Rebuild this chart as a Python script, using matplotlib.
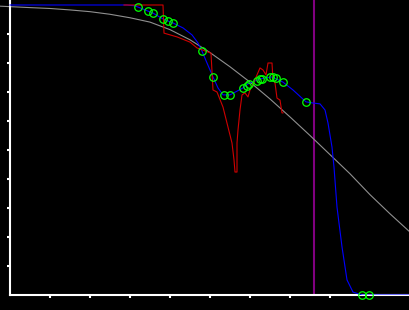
import matplotlib
matplotlib.use('Agg')
import matplotlib.pyplot as plt

# ── data ─────────────────────────────────────────────────────────────────────
ref_x = [-0.25, 0.5, 1.0, 1.5, 2.0, 2.5, 3.0, 3.5, 4.0, 4.5, 5.0, 5.5, 6.0,
         6.5, 7.0, 7.5, 8.0, 8.5, 9.0, 9.5, 10.0]
ref_y = [0.996, 0.991, 0.988, 0.983, 0.977, 0.968, 0.956, 0.941, 0.915, 0.880,
         0.836, 0.787, 0.734, 0.676, 0.614, 0.550, 0.484, 0.418, 0.346, 0.280,
         0.217]

fit_x = [0.0, 2.925, 3.125, 3.2, 3.45, 3.575, 3.825, 3.95, 4.075, 4.325, 4.55,
         4.7, 4.8, 4.925, 5.075, 5.2, 5.325, 5.5, 5.825, 5.95, 6.25, 6.55,
         6.825, 7.075, 7.4, 7.575, 7.75, 7.875, 7.95, 8.05, 8.1, 8.175, 8.3,
         8.425, 8.575, 8.8, 10.0]
fit_y = [1.0, 1.0, 0.997, 0.993, 0.979, 0.972, 0.952, 0.945, 0.938, 0.921,
         0.897, 0.869, 0.841, 0.800, 0.752, 0.714, 0.690, 0.690, 0.714, 0.728,
         0.745, 0.752, 0.734, 0.707, 0.666, 0.662, 0.659, 0.638, 0.593, 0.510,
         0.441, 0.303, 0.166, 0.052, 0.010, 0.0, 0.0]

raw_x = [2.85, 3.825, 3.85, 4.175, 4.5, 4.675, 5.025, 5.075, 5.175, 5.325,
         5.45, 5.55, 5.6, 5.625, 5.675, 5.675, 5.7, 5.75, 5.8, 5.875, 5.95,
         6.0, 6.1, 6.175, 6.25, 6.325, 6.4, 6.45, 6.55, 6.575, 6.625, 6.675,
         6.75, 6.8, 6.825]
raw_y = [1.0, 1.0, 0.903, 0.890, 0.872, 0.852, 0.834, 0.707, 0.700, 0.648,
         0.579, 0.524, 0.466, 0.424, 0.424, 0.524, 0.569, 0.638, 0.690, 0.697,
         0.683, 0.707, 0.734, 0.759, 0.783, 0.776, 0.759, 0.800, 0.800, 0.741,
         0.731, 0.679, 0.672, 0.628, 0.628]

obs_x = [3.2, 3.45, 3.575, 3.825, 3.95, 4.075, 4.8, 5.075, 5.35, 5.5, 5.825,
         5.925, 5.975, 6.175, 6.25, 6.3, 6.5, 6.575, 6.65, 6.825, 7.4, 8.8,
         8.975]
obs_y = [0.993, 0.979, 0.972, 0.952, 0.945, 0.938, 0.841, 0.752, 0.690, 0.690,
         0.714, 0.721, 0.728, 0.738, 0.745, 0.745, 0.752, 0.752, 0.748, 0.734,
         0.666, 0.0, 0.0]

cutoff = 7.6

x_ticks = [1, 2, 3, 4, 5, 6, 7, 8]
y_ticks = [0.1, 0.2, 0.3, 0.4, 0.5, 0.6, 0.7, 0.8, 0.9]

# ── figure ───────────────────────────────────────────────────────────────────
fig = plt.figure(figsize=(4.1, 3.1), dpi=100)
fig.patch.set_facecolor("black")
ax = fig.add_axes([0, 15 / 310, 1, 295 / 310])
ax.set_facecolor("black")

ax.axvline(cutoff, color="#800080", lw=1.5, zorder=1)
ax.plot(ref_x, ref_y, color="#909090", lw=0.8, zorder=2)
ax.plot(fit_x, fit_y, color="#0000ff", lw=0.8, zorder=3)
ax.plot(raw_x, raw_y, color="#d00000", lw=0.8, zorder=4)
ax.plot(obs_x, obs_y, ls="none", marker="o", ms=5.4, mfc="none",
        mec="#00ff00", mew=0.9, zorder=5, clip_on=False)

ax.set_xlim(-0.25, 10.0)
ax.set_ylim(0, 295 / 290)
ax.set_xticks(x_ticks)
ax.set_yticks(y_ticks)
ax.set_xticklabels([])
ax.set_yticklabels([])
ax.tick_params(colors="white", length=2.5, width=1.5, direction="out")

for side in ["top", "right"]:
    ax.spines[side].set_visible(False)
ax.spines["left"].set_position(("data", 0))
ax.spines["bottom"].set_bounds(0, 10)
for side in ["left", "bottom"]:
    ax.spines[side].set_color("white")
    ax.spines[side].set_linewidth(1.5)

plt.savefig("out.png", dpi=100, facecolor="black")
